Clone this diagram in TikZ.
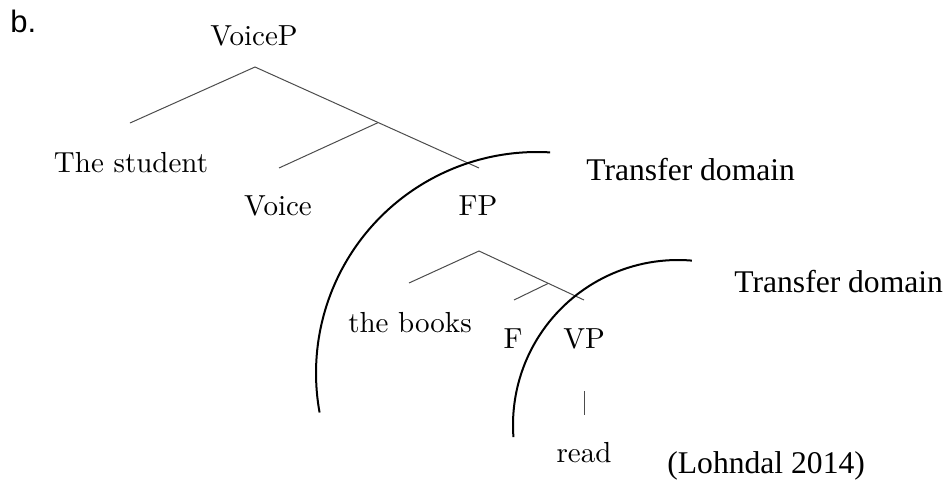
\documentclass[tikz,border=0pt]{standalone}
\usepackage{fontspec}
\setmainfont{Liberation Serif}
\newfontfamily\labelsans{Liberation Sans}
\usetikzlibrary{calc}
\newcommand\treelbl[1]{\scalebox{1.45}{#1}}
\tikzset{
  tlbl/.style={anchor=base,inner sep=0pt,font=\fontfamily{lmr}\fontsize{10}{12}\selectfont},
  dlbl/.style={anchor=base west,inner sep=0pt,font=\rmfamily\fontsize{15.8}{19}\selectfont},
  brn/.style={draw=black!70,line width=0.5pt},
  dom/.style={draw=black,line width=1pt},
}

\begin{document}
\begin{tikzpicture}[x=0.5pt,y=0.5pt]
  \useasboundingbox (0,0) rectangle (943,479);
  \node[anchor=base west,inner sep=0pt,font=\labelsans\fontsize{15.5}{18}\selectfont]
    (exno) at (10,447) {b.};

  % labels of the tree
  \node[tlbl] (voicep)  at (254,434) {\treelbl{VoiceP}};
  \node[tlbl] (student) at (131,307) {\treelbl{The student}};
  \node[tlbl] (voice)   at (278,264) {\treelbl{Voice}};
  \node[tlbl] (fp)      at (478,264) {\treelbl{FP}};
  \node[tlbl] (books)   at (410,147) {\treelbl{the books}};
  \node[tlbl] (f)       at (513,131) {\treelbl{F}};
  \node[tlbl] (vp)      at (584,131) {\treelbl{VP}};
  \node[tlbl] (read)    at (584,17)  {\treelbl{read}};

  % ends of the branches
  \coordinate (voicep-b)  at ($(voicep.base)+(1,-22)$);
  \coordinate (student-t) at ($(student.base)+(-1,49)$);
  \coordinate (fp-t)      at ($(fp.base)+(1,47)$);
  \coordinate (voice-t)   at ($(voice.base)+(1,47)$);
  \coordinate (voice-j)   at ($(voicep-b)!0.55!(fp-t)$);
  \coordinate (fp-b)      at ($(fp.base)+(1,-36)$);
  \coordinate (books-t)   at ($(books.base)+(-1,49)$);
  \coordinate (vp-t)      at ($(vp.base)+(0,48)$);
  \coordinate (f-j)       at ($(fp-b)!0.66!(vp-t)$);
  \coordinate (f-t)       at ($(f.base)+(1,48)$);
  \coordinate (vp-b)      at ($(vp.base)+(0,-43)$);
  \coordinate (read-t)    at ($(read.base)+(0,47)$);

  \draw[brn] (student-t) -- (voicep-b) -- (fp-t);
  \draw[brn] (voice-j) -- (voice-t);
  \draw[brn] (books-t) -- (fp-b) -- (vp-t);
  \draw[brn] (f-j) -- (f-t);
  \draw[brn] (vp-b) -- (read-t);

  % the two domains
  \draw[dom] (537,106) ++(86.6:221) arc[start angle=86.6,end angle=190.3,radius=221];
  \draw[dom] (678,54) ++(85.2:165) arc[start angle=85.2,end angle=184.2,radius=165];

  \node[dlbl] (dom-fp) at (586,299) {Transfer domain};
  \node[dlbl] (dom-vp) at (734,187) {Transfer domain};
  \node[dlbl] (cite)   at (667,6)   {(Lohndal 2014)};
\end{tikzpicture}
\end{document}
